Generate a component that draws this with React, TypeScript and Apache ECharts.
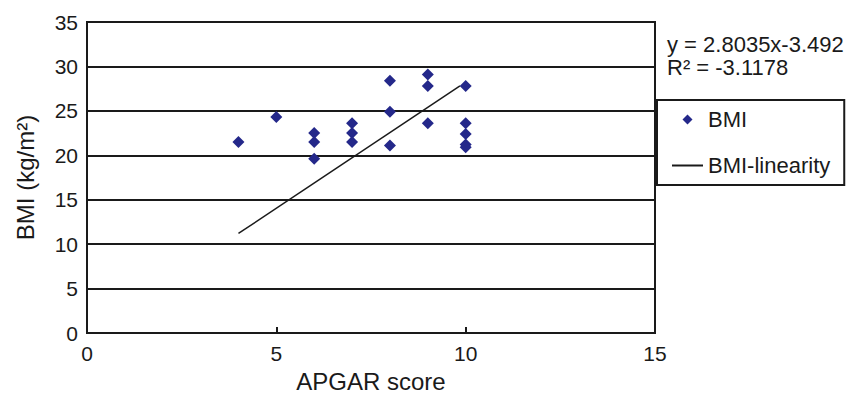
import React, { useEffect, useRef } from "react";
import * as echarts from "echarts";

const apgarScores = [4, 5, 6, 6, 6, 7, 7, 7, 8, 8, 8, 9, 9, 9, 10, 10, 10, 10, 10];
const bmiValues = [21.5, 24.3, 22.5, 21.5, 19.6, 23.6, 22.5, 21.5, 28.4, 24.9, 21.1, 29.1, 27.8, 23.6, 27.8, 23.6, 22.4, 21.2, 20.9];
const trendX = [4, 9.85];
const trendY = [11.2, 27.8];
const equationLines = ["y = 2.8035x-3.492", "R² = -3.1178"];

export default function App() {
  const ref = useRef<HTMLDivElement>(null);
  useEffect(() => {
    if (!ref.current) return;
    const chart = echarts.init(ref.current, null, { renderer: "svg" });
    const font = "'Liberation Sans', Arial, sans-serif";
    chart.setOption({
      animation: false,
      backgroundColor: "#ffffff",
      textStyle: { fontFamily: font, color: "#1a1a1a" },
      title: {
        text: equationLines.join("\n"),
        left: 662,
        top: 28,
        textStyle: { fontFamily: font, fontSize: 22, fontWeight: "normal", color: "#1a1a1a", lineHeight: 23 },
      },
      legend: {
        orient: "vertical",
        left: 657,
        top: 100,
        width: 188,
        padding: [7, 14, 7, 15],
        borderColor: "#1a1a1a",
        borderWidth: 2,
        itemWidth: 31,
        itemHeight: 10,
        itemGap: 21,
        symbolKeepAspect: true,
        textStyle: { fontFamily: font, fontSize: 22, color: "#1a1a1a", lineHeight: 25 },
        data: [
          { name: "BMI", icon: "path://M0,-1L1,0L0,1L-1,0Z" },
          { name: "BMI-linearity", icon: "path://M0,0L31,0L31,2L0,2Z" },
        ],
      },
      grid: {
        left: 87,
        right: 195,
        top: 22,
        bottom: 65,
        show: true,
        borderColor: "#1a1a1a",
        borderWidth: 2,
        backgroundColor: "transparent",
      },
      xAxis: {
        type: "value",
        min: 0,
        max: 15,
        interval: 5,
        name: "APGAR score",
        nameLocation: "middle",
        nameGap: 36,
        nameTextStyle: { fontFamily: font, fontSize: 24, color: "#1a1a1a" },
        axisLine: { show: true, lineStyle: { color: "#1a1a1a", width: 2 } },
        axisTick: { show: true, inside: true, length: 6, lineStyle: { color: "#1a1a1a", width: 2 } },
        axisLabel: { fontFamily: font, fontSize: 21, color: "#1a1a1a", margin: 10 },
        splitLine: { show: false },
      },
      yAxis: {
        type: "value",
        min: 0,
        max: 35,
        interval: 5,
        name: "BMI (kg/m²)",
        nameLocation: "middle",
        nameGap: 50,
        nameTextStyle: { fontFamily: font, fontSize: 24, color: "#1a1a1a" },
        axisLine: { show: true, lineStyle: { color: "#1a1a1a", width: 2 } },
        axisTick: { show: false },
        axisLabel: { fontFamily: font, fontSize: 21, color: "#1a1a1a", margin: 9 },
        splitLine: { show: true, lineStyle: { color: "#1a1a1a", width: 2 } },
      },
      series: [
        {
          name: "BMI",
          type: "scatter",
          symbol: "diamond",
          symbolSize: 12,
          itemStyle: { color: "#24288a", opacity: 1 },
          data: apgarScores.map((x, i) => [x, bmiValues[i]]),
          z: 3,
        },
        {
          name: "BMI-linearity",
          type: "line",
          symbol: "none",
          lineStyle: { color: "#1a1a1a", width: 1.5 },
          itemStyle: { color: "#1a1a1a" },
          data: trendX.map((x, i) => [x, trendY[i]]),
          z: 2,
        },
      ],
    });
    return () => chart.dispose();
  }, []);
  return (
    <div
      ref={ref}
      style={{ position: "fixed", left: 0, top: 0, width: 850, height: 398, background: "#fff" }}
    />
  );
}
